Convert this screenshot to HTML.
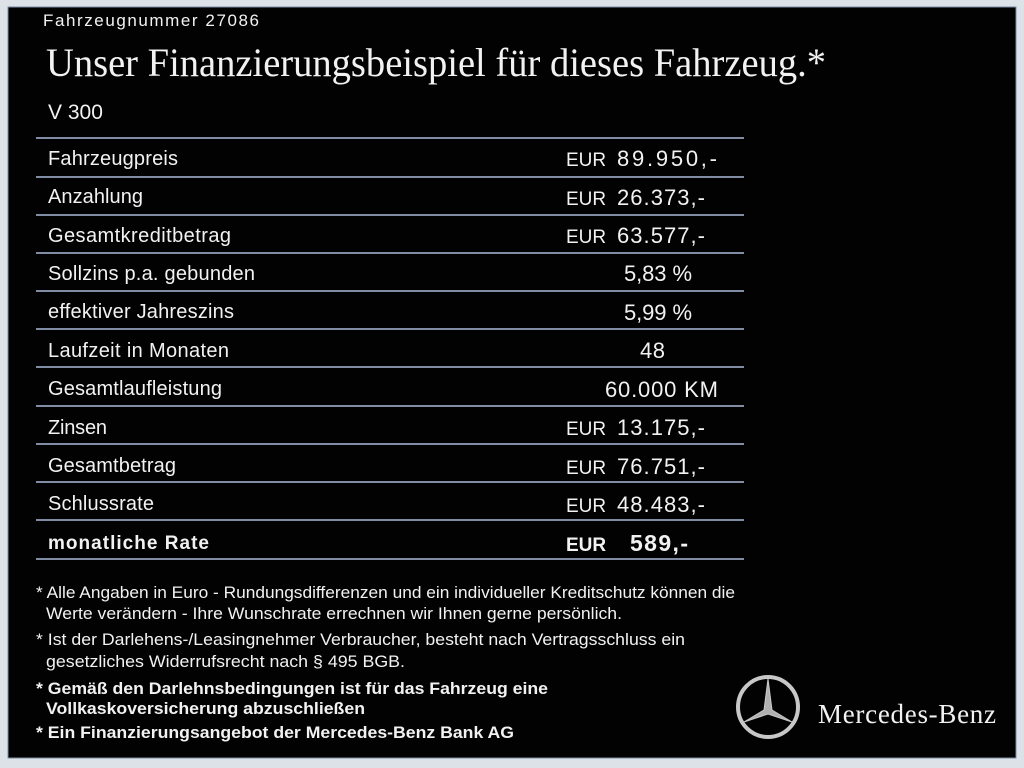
<!DOCTYPE html>
<html><head><meta charset="utf-8"><style>
html,body{margin:0;padding:0;background:#dde2e8;}
svg{display:block}
</style></head><body>
<svg width="1024" height="768" xmlns="http://www.w3.org/2000/svg">
<rect x="0" y="0" width="1024" height="768" fill="#dde2e8"/>
<rect x="8" y="7" width="1008" height="751" fill="#020203" stroke="#7a8aa0" stroke-width="1"/>
<g fill="#f2f2f2" font-family="Liberation Sans, sans-serif">
<text x="43" y="26" font-size="17" textLength="216">Fahrzeugnummer  27086</text>
<text x="46" y="76" font-family="Liberation Serif, serif" font-size="40" textLength="780" lengthAdjust="spacingAndGlyphs">Unser Finanzierungsbeispiel für dieses Fahrzeug.*</text>
<text x="48" y="119" font-size="21">V 300</text>
</g>
<g stroke="#7f8ca3" stroke-width="2">
<line x1="36" y1="138" x2="744" y2="138"/>
<line x1="36" y1="177" x2="744" y2="177"/>
<line x1="36" y1="215" x2="744" y2="215"/>
<line x1="36" y1="253" x2="744" y2="253"/>
<line x1="36" y1="291" x2="744" y2="291"/>
<line x1="36" y1="329" x2="744" y2="329"/>
<line x1="36" y1="367" x2="744" y2="367"/>
<line x1="36" y1="406" x2="744" y2="406"/>
<line x1="36" y1="444" x2="744" y2="444"/>
<line x1="36" y1="482" x2="744" y2="482"/>
<line x1="36" y1="520" x2="744" y2="520"/>
<line x1="36" y1="559" x2="744" y2="559"/>
</g>
<g fill="#f2f2f2" font-family="Liberation Sans, sans-serif" font-size="20">
<text x="48" y="165" textLength="130">Fahrzeugpreis</text>
<text x="48" y="203" textLength="95">Anzahlung</text>
<text x="48" y="242" textLength="183">Gesamtkreditbetrag</text>
<text x="48" y="280" textLength="207">Sollzins p.a. gebunden</text>
<text x="48" y="318" textLength="186">effektiver Jahreszins</text>
<text x="48" y="357" textLength="181">Laufzeit in Monaten</text>
<text x="48" y="395" textLength="174">Gesamtlaufleistung</text>
<text x="48" y="434" textLength="59">Zinsen</text>
<text x="48" y="472" textLength="128">Gesamtbetrag</text>
<text x="48" y="510" textLength="106">Schlussrate</text>
<text x="48" y="549" font-weight="bold" font-size="19" textLength="161">monatliche Rate</text>

<text x="566" y="166" font-size="19">EUR</text><text x="617" y="166" font-size="22" textLength="100">89.950,-</text>
<text x="566" y="205" font-size="19">EUR</text><text x="617" y="205" font-size="22" textLength="88">26.373,-</text>
<text x="566" y="243" font-size="19">EUR</text><text x="617" y="243" font-size="22" textLength="88">63.577,-</text>
<text x="624" y="281" font-size="22" textLength="68">5,83 %</text>
<text x="624" y="320" font-size="22" textLength="68">5,99 %</text>
<text x="640" y="358" font-size="22" textLength="25">48</text>
<text x="605" y="397" font-size="22" textLength="113">60.000 KM</text>
<text x="566" y="435" font-size="19">EUR</text><text x="617" y="435" font-size="22" textLength="88">13.175,-</text>
<text x="566" y="474" font-size="19">EUR</text><text x="617" y="474" font-size="22" textLength="88">76.751,-</text>
<text x="566" y="512" font-size="19">EUR</text><text x="617" y="512" font-size="22" textLength="88">48.483,-</text>
<text x="566" y="551" font-weight="bold" font-size="19">EUR</text><text x="630" y="551" font-size="23" font-weight="bold" textLength="58">589,-</text>
</g>
<g fill="#f2f2f2" font-family="Liberation Sans, sans-serif" font-size="17">
<text x="36" y="598" textLength="699" lengthAdjust="spacingAndGlyphs">* Alle Angaben in Euro - Rundungsdifferenzen und ein individueller Kreditschutz können die</text>
<text x="46" y="619" textLength="576" lengthAdjust="spacingAndGlyphs">Werte verändern - Ihre Wunschrate errechnen wir Ihnen gerne persönlich.</text>
<text x="36" y="645" textLength="649" lengthAdjust="spacingAndGlyphs">* Ist der Darlehens-/Leasingnehmer Verbraucher, besteht nach Vertragsschluss ein</text>
<text x="46" y="667" textLength="359" lengthAdjust="spacingAndGlyphs">gesetzliches  Widerrufsrecht nach § 495 BGB.</text>
<text x="36" y="694" font-weight="bold" textLength="512" lengthAdjust="spacingAndGlyphs">* Gemäß den Darlehnsbedingungen ist für das Fahrzeug eine</text>
<text x="46" y="714" font-weight="bold" textLength="319" lengthAdjust="spacingAndGlyphs">Vollkaskoversicherung abzuschließen</text>
<text x="36" y="738" font-weight="bold" textLength="478" lengthAdjust="spacingAndGlyphs">* Ein Finanzierungsangebot der Mercedes-Benz Bank AG</text>
</g>
<g transform="translate(768,707)" stroke="#c8c8c8" fill="none">
<circle r="30" stroke-width="4"/>
<path d="M0,-28 L4,3 L24,15 L0,7 L-24,15 L-4,3 Z" fill="#b0b0b0" stroke-width="1"/>
</g>
<text x="818" y="723" fill="#f2f2f2" font-family="Liberation Serif, serif" font-size="27" textLength="178">Mercedes-Benz</text>
</svg>
</body></html>
